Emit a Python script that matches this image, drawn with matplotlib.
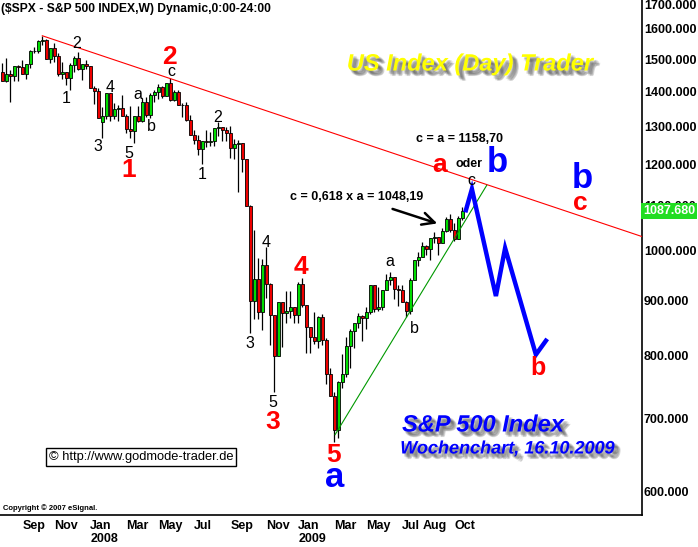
import numpy as np
import pandas as pd
import matplotlib
matplotlib.use("Agg")
import matplotlib.pyplot as plt
from matplotlib import patheffects as pe
from matplotlib.ticker import NullLocator, NullFormatter

plt.rcParams['font.family'] = ['Liberation Sans', 'DejaVu Sans']

# weekly S&P 500 candles, Aug 2007 - 16 Oct 2009
opens = [1459, 1433, 1453, 1446, 1479, 1474, 1454, 1484, 1526, 1527,
         1557, 1562, 1501, 1535, 1510, 1454, 1459, 1441, 1481, 1505,
         1468, 1484, 1478, 1412, 1401, 1313, 1331, 1395, 1331, 1350,
         1353, 1331, 1293, 1288, 1330, 1315, 1370, 1333, 1390, 1398,
         1414, 1388, 1425, 1376, 1400, 1361, 1360, 1318, 1278, 1263,
         1239, 1261, 1258, 1260, 1296, 1298, 1292, 1283, 1242, 1252,
         1255, 1213, 1099, 899, 941, 877, 969, 931, 873, 800,
         896, 876, 880, 888, 873, 932, 890, 850, 832, 826,
         869, 827, 770, 735, 683, 757, 769, 816, 843, 857,
         870, 866, 878, 929, 883, 887, 919, 940, 946, 921,
         919, 896, 879, 940, 979, 987, 1010, 1004, 1026, 1029,
         1016, 1043, 1068, 1044, 1025, 1071]
highs = [1488, 1503, 1466, 1479, 1481, 1496, 1485, 1530, 1538, 1561,
         1576, 1564, 1535, 1552, 1520, 1492, 1460, 1488, 1510, 1523,
         1485, 1498, 1478, 1416, 1411, 1355, 1396, 1396, 1368, 1361,
         1389, 1336, 1359, 1330, 1359, 1380, 1383, 1395, 1404, 1422,
         1416, 1425, 1440, 1406, 1404, 1368, 1370, 1333, 1290, 1278,
         1262, 1291, 1284, 1297, 1314, 1300, 1300, 1303, 1266, 1265,
         1255, 1214, 1100, 1044, 985, 983, 1007, 934, 873, 896,
         896, 918, 918, 888, 935, 944, 890, 851, 878, 871,
         875, 831, 780, 741, 758, 803, 832, 846, 856, 876,
         872, 887, 930, 930, 925, 920, 951, 956, 946, 930,
         930, 898, 943, 979, 996, 1018, 1012, 1027, 1040, 1030,
         1048, 1074, 1080, 1060, 1076, 1097]
lows = [1433, 1429, 1371, 1432, 1432, 1453, 1439, 1471, 1520, 1519,
        1546, 1500, 1489, 1492, 1448, 1438, 1420, 1406, 1460, 1467,
        1435, 1468, 1411, 1364, 1325, 1270, 1322, 1316, 1321, 1317,
        1330, 1282, 1270, 1256, 1312, 1312, 1327, 1324, 1370, 1379,
        1380, 1387, 1373, 1373, 1360, 1326, 1317, 1278, 1252, 1225,
        1200, 1244, 1247, 1249, 1274, 1261, 1262, 1217, 1214, 1133,
        1180, 1099, 840, 865, 865, 845, 904, 819, 741, 799,
        815, 857, 866, 857, 857, 888, 804, 804, 821, 814,
        818, 754, 734, 667, 672, 748, 765, 779, 814, 848,
        826, 847, 875, 878, 879, 881, 919, 930, 903, 889,
        896, 869, 875, 940, 968, 987, 990, 979, 1016, 991,
        1016, 1041, 1041, 1020, 1025, 1066]
closes = [1433, 1453, 1446, 1479, 1474, 1454, 1484, 1526, 1527, 1557,
          1562, 1501, 1535, 1510, 1454, 1459, 1441, 1481, 1505, 1468,
          1484, 1478, 1412, 1401, 1325, 1331, 1395, 1331, 1350, 1353,
          1331, 1293, 1288, 1330, 1315, 1370, 1333, 1390, 1398, 1414,
          1388, 1425, 1376, 1400, 1361, 1360, 1318, 1278, 1263, 1239,
          1261, 1258, 1260, 1296, 1298, 1292, 1283, 1242, 1252, 1255,
          1213, 1099, 899, 941, 877, 969, 931, 873, 800, 896,
          876, 880, 888, 873, 932, 890, 850, 832, 826, 869,
          827, 770, 735, 683, 757, 769, 816, 843, 857, 870,
          866, 878, 929, 883, 887, 919, 940, 946, 921, 919,
          896, 879, 940, 979, 987, 1010, 1004, 1026, 1029, 1016,
          1043, 1068, 1044, 1025, 1071, 1088]
first_week = '2007-08-03'
last_price = 1087.68

# x-axis month labels (first weekly bar of the month)
label_months = ['2007-09', '2007-11', '2008-01', '2008-03', '2008-05', '2008-07',
                '2008-09', '2008-11', '2009-01', '2009-03', '2009-05', '2009-07',
                '2009-08', '2009-10']
label_texts = ['Sep', 'Nov', 'Jan\n2008', 'Mar', 'May', 'Jul',
               'Sep', 'Nov', 'Jan\n2009', 'Mar', 'May', 'Jul', 'Aug', 'Oct']
price_ticks = [600, 700, 800, 900, 1000, 1100, 1200, 1300, 1400, 1500, 1600, 1700]

# trend lines (week index, price)
resist_x = [10, 159.9]
resist_y = [1576, 1030]
support_x = [83.2, 121.1]
support_y = [677, 1148]
# projected path
proj_x = [115.9, 117.4, 123.4, 125.7, 133.4, 135.9]
proj_y = [1089, 1139, 908, 1005, 802, 826]

# Elliott wave labels: (text, week index, price, colour, size)
wave_labels = [
    ('2', 18.7, 1551, 'black', 11.5), ('1', 15.9, 1380, 'black', 11.5),
    ('3', 23.9, 1247, 'black', 11.5), ('4', 26.9, 1413, 'black', 11.5),
    ('5', 31.7, 1229, 'black', 11.5), ('a', 33.9, 1392, 'black', 11.5),
    ('b', 37.2, 1301, 'black', 11.5), ('c', 42.2, 1460, 'black', 11.5),
    ('2', 53.9, 1326, 'black', 11.5), ('1', 49.9, 1175, 'black', 11.5),
    ('4', 65.9, 1018, 'black', 11.5), ('3', 61.9, 822, 'black', 11.5),
    ('5', 67.7, 725, 'black', 11.5), ('a', 96.9, 976, 'black', 11.5),
    ('b', 102.9, 848, 'black', 11.5), ('c', 117.2, 1160, 'black', 11.5),
    ('2', 41.9, 1508, 'red', 19), ('1', 31.7, 1185, 'red', 19),
    ('4', 74.7, 965, 'red', 19), ('3', 67.7, 695, 'red', 19),
    ('5', 82.7, 649, 'red', 19), ('a', 109.4, 1198, 'red', 19),
    ('b', 133.9, 780, 'red', 18), ('c', 144.4, 1106, 'red', 19),
    ('a', 83.2, 618, '#0000ff', 25), ('b', 123.7, 1206, '#0000ff', 25),
    ('b', 144.9, 1165, '#0000ff', 25),
]

W, H = 698, 547
fig = plt.figure(figsize=(W / 100, H / 100), dpi=100)
ax = fig.add_axes([0, 32 / H, 641.7 / W, 515 / H])

n = len(closes)
idx = np.arange(n)
o = np.array(opens, float)
c = np.array(closes, float)
up = c >= o
colors = np.where(up, '#00dd00', '#ee0000')

ax.vlines(idx, lows, highs, color='black', lw=0.9, zorder=2)
bottoms = np.minimum(o, c)
heights = np.maximum(np.abs(c - o), 0.8)
ax.bar(idx, heights, bottom=bottoms, width=0.75, color=colors,
       edgecolor='black', linewidth=0.6, zorder=3)

ax.plot(resist_x, resist_y, color='#ff0000', lw=0.8, zorder=4)
ax.plot(support_x, support_y, color='#009900', lw=0.8, zorder=4)
ax.plot(proj_x, proj_y, color='#0000ff', lw=3.2, zorder=5, solid_joinstyle='miter')

ax.set_yscale('log')
ax.set_ylim(571, 1700)
ax.set_xlim(-0.58, 159.85)

for s in ['left', 'top']:
    ax.spines[s].set_visible(False)
for s in ['right', 'bottom']:
    ax.spines[s].set_linewidth(1.2)

ax.yaxis.tick_right()
ax.yaxis.set_minor_locator(NullLocator())
ax.yaxis.set_minor_formatter(NullFormatter())
ax.set_yticks(price_ticks, labels=['%.3f' % v for v in price_ticks])
ax.tick_params(axis='y', length=0, pad=1.5, labelsize=9)
for lbl in ax.get_yticklabels():
    lbl.set_fontweight('bold')
ax.yaxis.get_major_ticks()[-1].label2.set_va('top')

dates = pd.date_range(first_week, periods=n, freq='7D')
ym = dates.strftime('%Y-%m')
tick_pos = [int(np.argmax(ym == m)) for m in label_months]
ax.set_xticks(tick_pos, labels=label_texts)
ax.tick_params(axis='x', length=0, pad=3.5, labelsize=9)
for lbl in ax.get_xticklabels():
    lbl.set_fontweight('bold')
    lbl.set_horizontalalignment('left')
    lbl.set_multialignment('left')
    lbl.set_linespacing(1.1)

for txt, x, y, col, sz in wave_labels:
    ax.text(x, y, txt, color=col, fontsize=sz, ha='center', va='center',
            fontweight='normal' if col == 'black' else 'bold', zorder=6)

ax.text(114.4, 1266, 'c = a = 1158,70', fontsize=9, fontweight='bold',
        ha='center', va='center', zorder=6)
ax.text(116.7, 1201, 'oder', fontsize=9, fontweight='bold',
        ha='center', va='center', zorder=6)
ax.text(88.7, 1120, 'c = 0,618 x a = 1048,19', fontsize=9, fontweight='bold',
        ha='center', va='center', zorder=6)
ax.annotate('', xy=(109.4, 1057), xytext=(96.9, 1094),
            arrowprops=dict(arrowstyle='->', lw=1.8, color='black',
                            mutation_scale=22), zorder=6)

ax.annotate('%.3f' % last_price, xy=(1.0, last_price),
            xycoords=('axes fraction', 'data'), xytext=(1.0, 0),
            textcoords='offset points', ha='left', va='center',
            fontsize=9, fontweight='bold', color='white', zorder=10,
            annotation_clip=False,
            bbox=dict(boxstyle='square,pad=0.18', fc='#22dd22', ec='none'))


def shadow():
    fx = []
    for dx, dy in [(1.5, -1.5), (2.5, -2.5), (3.5, -3.5), (2.5, -1.5),
                   (1.5, -2.5), (3.5, -2.5), (2.5, -3.5), (4, -4), (4.5, -3.5)]:
        fx.append(pe.SimplePatchShadow(offset=(dx, dy), shadow_rgbFace='0.3',
                                       alpha=0.15))
    fx.append(pe.Normal())
    return fx


def px(x, y):
    return x / W, 1 - y / H


fig.text(*px(470, 64), 'US Index (Day) Trader', color='#ffff00', fontsize=17,
         fontweight='bold', fontstyle='italic', ha='center', va='center',
         path_effects=shadow())
fig.text(*px(483, 425), 'S&P 500 Index', color='#0000ff', fontsize=17,
         fontweight='bold', fontstyle='italic', ha='center', va='center',
         path_effects=shadow())
fig.text(*px(507, 449), 'Wochenchart, 16.10.2009', color='#0000ff', fontsize=13,
         fontweight='bold', fontstyle='italic', ha='center', va='center',
         path_effects=shadow())

fig.text(*px(1, 9), r'(\$SPX - S&P 500 INDEX,W) Dynamic,0:00-24:00',
         fontsize=8.7, fontweight='bold', ha='left', va='center')
fig.text(*px(141, 457), '\u00a9 http://www.godmode-trader.de', fontsize=9.3,
         ha='center', va='center',
         bbox=dict(boxstyle='square,pad=0.25', fc='white', ec='black', lw=1))
fig.text(*px(3, 508), 'Copyright \u00a9 2007 eSignal.', fontsize=5.5,
         fontweight='bold', ha='left', va='center')

fig.savefig('out.png', dpi=100)
